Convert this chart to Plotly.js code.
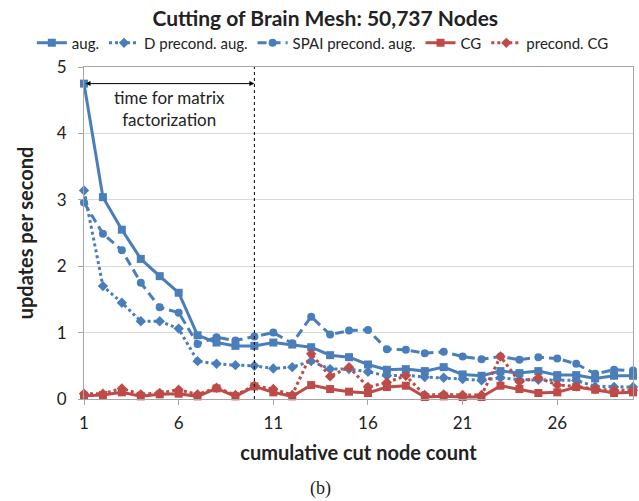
<!DOCTYPE html>
<html>
<head>
<meta charset="utf-8">
<script src="https://cdn.plot.ly/plotly-3.0.1.min.js"></script>
<style>html,body{margin:0;padding:0;background:#fff;}#chart{width:639px;height:501px;}</style>
</head>
<body>
<div id="chart"></div>
<script>
var nodeCount = [1,2,3,4,5,6,7,8,9,10,11,12,13,14,15,16,17,18,19,20,21,22,23,24,25,26,27,28,29,30];
var augValues = [4.75,3.04,2.55,2.11,1.85,1.60,0.96,0.85,0.80,0.80,0.85,0.82,0.78,0.66,0.63,0.52,0.44,0.45,0.42,0.48,0.37,0.35,0.42,0.39,0.42,0.36,0.36,0.31,0.35,0.35];
var dPrecondAugValues = [3.14,1.70,1.45,1.17,1.17,1.06,0.57,0.53,0.51,0.50,0.46,0.48,0.57,0.45,0.45,0.41,0.35,0.36,0.33,0.32,0.30,0.28,0.32,0.29,0.29,0.29,0.28,0.19,0.18,0.18];
var spaiPrecondAugValues = [2.96,2.49,2.24,1.75,1.38,1.30,0.83,0.93,0.88,0.94,1.00,0.84,1.24,0.97,1.03,1.04,0.75,0.74,0.69,0.71,0.64,0.60,0.64,0.59,0.63,0.61,0.53,0.38,0.44,0.43];
var cgValues = [0.05,0.06,0.10,0.04,0.07,0.08,0.04,0.16,0.04,0.19,0.10,0.04,0.21,0.15,0.11,0.09,0.18,0.20,0.03,0.04,0.03,0.03,0.20,0.15,0.09,0.10,0.18,0.14,0.09,0.10];
var precondCgValues = [0.08,0.08,0.16,0.07,0.09,0.14,0.07,0.17,0.06,0.20,0.15,0.06,0.68,0.34,0.48,0.18,0.25,0.35,0.06,0.07,0.06,0.06,0.64,0.26,0.32,0.21,0.19,0.15,0.13,0.13];
var xTicks = [1,6,11,16,21,26];
var yTicks = [0,1,2,3,4,5];
var factorizationEnd = 10;

var BLUE = '#4A7EBB', RED = '#BE4B48';
var FONT = 'Lato, "Open Sans", sans-serif';

function series(name, y, color, dash, symbol, size) {
  return {
    x: nodeCount, y: y, name: name, type: 'scatter', mode: 'lines+markers',
    line: {color: color, width: 3, dash: dash},
    marker: {color: color, symbol: symbol, size: size},
    cliponaxis: false
  };
}

var data = [
  series('aug.', augValues, BLUE, 'solid', 'square', 8),
  series('D precond. aug.', dPrecondAugValues, BLUE, 'dot', 'diamond', 8),
  series('SPAI precond. aug.', spaiPrecondAugValues, BLUE, '9px,5px', 'circle', 8),
  series('CG', cgValues, RED, 'solid', 'square', 8),
  series('precond. CG', precondCgValues, RED, 'dot', 'diamond', 8)
];

var layout = {
  width: 639, height: 501,
  margin: {l: 84, r: 6, t: 67, b: 102},
  paper_bgcolor: '#fff', plot_bgcolor: '#fff',
  font: {family: FONT, color: '#222', size: 15},
  title: {text: '<b>Cutting of Brain Mesh: 50,737 Nodes</b>', font: {family: FONT, size: 21, color: '#222'},
          x: 0.509, xref: 'container', xanchor: 'center', y: 1 - 19/501, yref: 'container', yanchor: 'middle'},
  showlegend: true,
  legend: {orientation: 'h', xref: 'paper', yref: 'paper', x: -0.095, xanchor: 'left', y: 1.072, yanchor: 'middle',
           font: {family: FONT, size: 15, color: '#222'}, itemwidth: 30, tracegroupgap: 0, bgcolor: 'rgba(0,0,0,0)'},
  xaxis: {
    range: [1, 30], tickvals: xTicks, ticktext: xTicks.map(String),
    showgrid: false, zeroline: false,
    showline: true, linecolor: '#A6A6A6', linewidth: 1, mirror: true,
    ticks: 'outside', ticklen: 5, tickcolor: '#A6A6A6', ticklabelstandoff: 4,
    tickfont: {family: FONT, size: 17, color: '#222'},
    title: {text: '<b>cumulative cut node count</b>', font: {family: FONT, size: 20, color: '#222'}, standoff: 13}
  },
  yaxis: {
    range: [0, 5], tickvals: yTicks,
    showgrid: true, gridcolor: '#D9D9D9', gridwidth: 1, zeroline: false,
    showline: true, linecolor: '#A6A6A6', linewidth: 1, mirror: true,
    ticks: 'outside', ticklen: 5, tickcolor: '#A6A6A6', ticklabelstandoff: 8,
    tickfont: {family: FONT, size: 17, color: '#222'},
    title: {text: '<b>updates per second</b>', font: {family: FONT, size: 20, color: '#222'}, standoff: 17}
  },
  shapes: [
    {type: 'line', xref: 'x', yref: 'y', x0: factorizationEnd, x1: factorizationEnd, y0: 0, y1: 5,
     line: {color: '#000', width: 1, dash: 'dot'}}
  ],
  annotations: [
    {xref: 'x', yref: 'y', axref: 'x', ayref: 'y', x: factorizationEnd, y: 4.75, ax: 1, ay: 4.75,
     showarrow: true, arrowhead: 2, arrowside: 'end+start', arrowsize: 1, arrowwidth: 1, arrowcolor: '#000', text: ''},
    {xref: 'x', yref: 'y', x: 5.5, y: 4.38, text: 'time for matrix<br>factorization', showarrow: false,
     font: {family: FONT, size: 17, color: '#222'}, align: 'center'},
    {xref: 'paper', yref: 'paper', x: (320 - 84) / 549, y: (399 - 488) / 332, yanchor: 'middle', xanchor: 'center',
     text: '(b)', showarrow: false,
     font: {family: '"Liberation Serif", "DejaVu Serif", serif', size: 18, color: '#222'}}
  ]
};

Plotly.newPlot('chart', data, layout, {displayModeBar: false, staticPlot: true});
</script>
</body>
</html>
